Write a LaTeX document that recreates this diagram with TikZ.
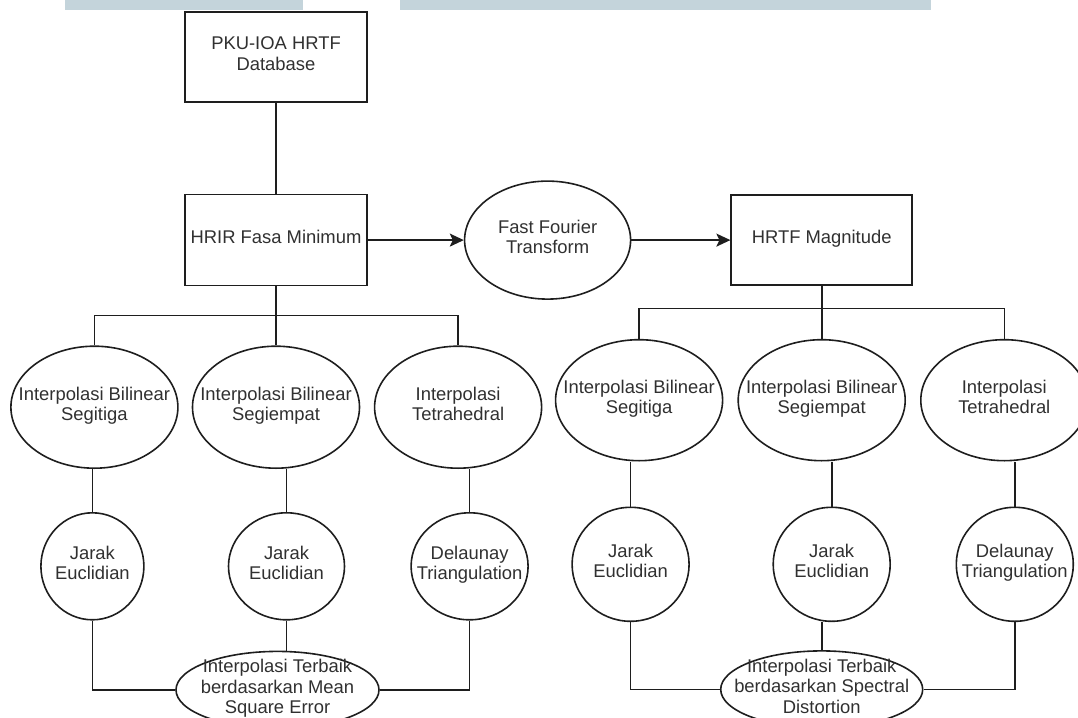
\documentclass[tikz,border=0pt]{standalone}
\usepackage{fontspec}
\setmainfont{Liberation Sans}
\usepackage{tikz}
\usetikzlibrary{arrows.meta,positioning,shapes.geometric}
\definecolor{ink}{HTML}{1E1E1E}
\definecolor{txt}{HTML}{303030}
\definecolor{band}{HTML}{C4D4DB}
% text set in a box of no size, so the shape keeps its own size
\newcommand{\nodetext}[1]{\makebox[0pt][c]{\raisebox{-1.8pt}[0pt][0pt]{\begin{tabular}{@{}c@{}}#1\end{tabular}}}}
\tikzset{
  box/.style={draw=ink,line width=0.8pt,rectangle,inner sep=0pt,minimum width=91pt,minimum height=45pt,text=txt,font=\fontsize{9.2}{10.3}\selectfont},
  oval/.style={draw=ink,line width=0.8pt,ellipse,inner sep=0pt,minimum width=83.5pt,minimum height=61pt,text=txt,font=\fontsize{9.2}{10.3}\selectfont},
  link/.style={ink,line width=0.8pt},
  arrow/.style={-{Stealth[length=7pt,width=6.5pt,inset=1.5pt]},ink,line width=0.8pt}
}
\begin{document}
\begin{tikzpicture}[x=0.5pt,y=-0.5pt,
  dist/.style={oval,minimum width=58pt,minimum height=53.5pt},
  rdist/.style={oval,minimum width=58.5pt,minimum height=57pt},
  best/.style={oval,minimum width=101.5pt,minimum height=38.5pt}
]
  \useasboundingbox (0,0) rectangle (1078,718);
  \fill[band] (65,0) rectangle (303,9.5);
  \fill[band] (400,0) rectangle (931,9.5);

  \node[box] (pku) at (276,57) {\nodetext{PKU-IOA HRTF\\Database}};
  \node[box,below=45.5pt of pku,minimum height=45.5pt] (hrir) {\nodetext{HRIR Fasa Minimum}};
  \node[oval,right=48pt of hrir,minimum width=83pt,minimum height=59pt] (fft) {\nodetext{Fast Fourier\\Transform}};
  \node[box,right=49.5pt of fft,minimum width=90.5pt] (hrtf) {\nodetext{HRTF Magnitude}};

  \draw[link] (pku) -- (hrir);
  \draw[arrow] (hrir) -- (fft);
  \draw[arrow] (fft) -- (hrtf);

  % Left tree (minimum phase HRIR)
  \node[oval,below=29.5pt of hrir] (e2) {\nodetext{Interpolasi Bilinear\\Segiempat}};
  \node[oval,left=6.5pt of e2] (e1) {\nodetext{Interpolasi Bilinear\\Segitiga}};
  \node[oval,right=6.75pt of e2] (e3) {\nodetext{Interpolasi\\Tetrahedral}};
  \node[dist,below=21.5pt of e1,xshift=-1pt,minimum width=51.5pt] (c1) {\nodetext{Jarak\\Euclidian}};
  \node[dist,below=21.5pt of e2,xshift=5.25pt] (c2) {\nodetext{Jarak\\Euclidian}};
  \node[dist,below=21.5pt of e3,xshift=5.75pt,minimum width=58.5pt] (c3) {\nodetext{Delaunay\\Triangulation}};
  \node[best,below=15pt of c2,xshift=-4.5pt] (mse) {\nodetext{Interpolasi Terbaik\\berdasarkan Mean\\Square Error}};
  \coordinate[below=14.5pt of hrir] (lbus);

  \draw[link] (hrir) -- (e2);
  \draw[link] (e1) |- (lbus) -| (e3);
  \draw[link] (e1.south -| c1) -- (c1);
  \draw[link] (e2.south -| c2) -- (c2);
  \draw[link] (e3.south -| c3) -- (c3);
  \draw[link] (c1) |- (mse);
  \draw[link] (c2) -- (c2 |- mse.north);
  \draw[link] (c3) |- (mse);

  % Right tree (HRTF magnitude)
  \node[oval,below=26.5pt of hrtf,minimum height=60.5pt] (e5) {\nodetext{Interpolasi Bilinear\\Segiempat}};
  \node[oval,left=7pt of e5,minimum height=60.5pt] (e4) {\nodetext{Interpolasi Bilinear\\Segitiga}};
  \node[oval,right=7pt of e5,minimum height=60.5pt] (e6) {\nodetext{Interpolasi\\Tetrahedral}};
  \node[rdist,below=22.5pt of e4,xshift=-4.25pt] (c4) {\nodetext{Jarak\\Euclidian}};
  \node[rdist,below=22.5pt of e5,xshift=5pt] (c5) {\nodetext{Jarak\\Euclidian}};
  \node[rdist,below=22.5pt of e6,xshift=5.25pt] (c6) {\nodetext{Delaunay\\Triangulation}};
  \node[best,below=14pt of c5,xshift=-5pt,minimum width=101pt] (sd) {\nodetext{Interpolasi Terbaik\\berdasarkan Spectral\\Distortion}};
  \coordinate[below=11.25pt of hrtf] (rbus);

  \draw[link] (hrtf) -- (e5);
  \draw[link] (e4) |- (rbus) -| (e6);
  \draw[link] (e4.south -| c4) -- (c4);
  \draw[link] (e5.south -| c5) -- (c5);
  \draw[link] (e6.south -| c6) -- (c6);
  \draw[link] (c4) |- (sd);
  \draw[link] (c5.south -| sd) -- (sd);
  \draw[link] (c6) |- (sd);
\end{tikzpicture}
\end{document}
